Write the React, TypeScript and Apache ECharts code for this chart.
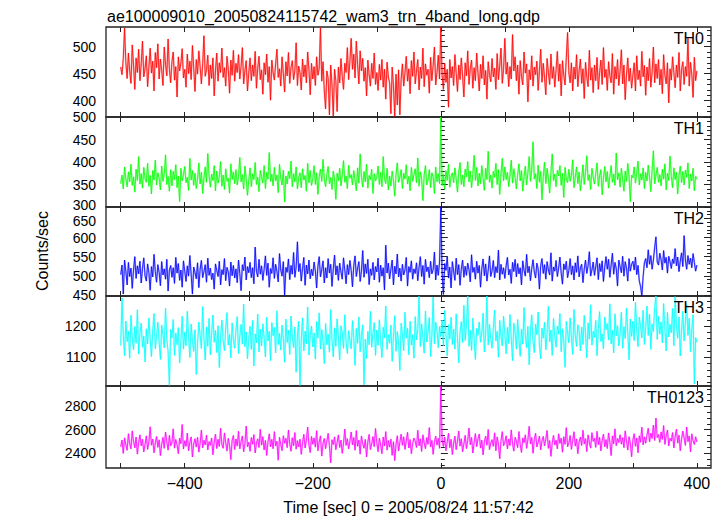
import { useEffect, useRef } from "react";
import * as echarts from "echarts";

// Light curve: 2-s bins from -500 s to +400 s
const T_START = -500;
const T_BIN = 2;

const TH0 = [
  462, 448, 478, 534, 470, 441, 488, 455, 432, 503,
  466, 421, 479, 452, 495, 437, 468, 510, 444, 459,
  483, 426, 462, 497, 451, 473, 418, 489, 461, 505,
  440, 477, 456, 428, 499, 467, 446, 514, 458, 433,
  472, 490, 438, 463, 407, 481, 455, 469, 496, 442,
  458, 425, 486, 450, 473, 439, 502, 461, 417, 476,
  449, 492, 463, 431, 468, 520, 445, 457, 484, 428,
  466, 441, 479, 409, 455, 488, 436, 470, 452, 497,
  443, 461, 427, 482, 458, 414, 475, 447, 493, 436,
  469, 452, 485, 440, 463, 498, 431, 456, 474, 418,
  451, 479, 437, 466, 445, 491, 423, 460, 482, 439,
  457, 412, 470, 448, 486, 434, 463, 401, 475, 452,
  438, 468, 495, 443, 459, 427, 481, 450, 416, 472,
  446, 489, 432, 461, 474, 439, 455, 507, 428, 464,
  452, 420, 477, 444, 466, 433, 490, 458, 411, 469,
  440, 463, 428, 481, 447, 459, 535, 436, 472, 418,
  385, 455, 441, 374, 466, 429, 372, 458, 437, 380,
  462, 433, 478, 445, 421, 469, 452, 498, 439, 473,
  515, 458, 486, 442, 510, 467, 431, 492, 455, 478,
  436, 461, 409, 475, 448, 427, 469, 441, 488, 430,
  452, 419, 467, 438, 476, 425, 458, 403, 471, 444,
  433, 376, 462, 428, 371, 449, 392, 457, 374, 439,
  468, 427, 451, 482, 436, 459, 413, 474, 445, 490,
  431, 455, 476, 420, 462, 441, 497, 426, 468, 447,
  458, 414, 480, 437, 465, 499, 429, 452, 484, 440,
  536, 447, 421, 469, 434, 458, 388, 476, 442, 463,
  428, 485, 451, 417, 466, 439, 479, 445, 407, 470,
  446, 492, 430, 459, 475, 423, 461, 437, 488, 452,
  418, 467, 441, 483, 429, 456, 403, 472, 448, 435,
  478, 444, 460, 421, 487, 439, 465, 497, 432, 458,
  515, 449, 471, 426, 463, 440, 522, 455, 481, 437,
  466, 412, 474, 445, 429, 490, 451, 468, 398, 457,
  439, 483, 427, 462, 448, 473, 419, 456, 495, 434,
  469, 443, 411, 478, 452, 430, 486, 441, 463, 425,
  457, 491, 436, 468, 409, 474, 447, 429, 480, 526,
  451, 433, 470, 418, 462, 440, 485, 426, 455, 477,
  432, 459, 404, 471, 444, 426, 493, 438, 461, 415,
  466, 437, 480, 421, 452, 475, 430, 498, 443, 458,
  419, 472, 446, 433, 487, 412, 463, 440, 476, 428,
  455, 494, 431, 466, 402, 448, 479, 436, 460, 423,
  447, 470, 418, 483, 439, 456, 427, 491, 444, 465,
  410, 462, 437, 478, 425, 452, 499, 433, 468, 441,
  476, 429, 458, 413, 485, 447, 431, 470, 396, 459,
  438, 481, 452, 424, 466, 443, 489, 418, 457, 472,
  430, 463, 445, 515, 427, 471, 449, 406, 480, 437,
  455,
];

const TH1 = [
  352, 371, 340, 389, 362, 345, 378, 356, 395, 348,
  367, 333, 384, 359, 412, 351, 374, 342, 388, 363,
  355, 397, 346, 370, 329, 381, 360, 404, 349, 376,
  364, 338, 391, 357, 373, 416, 350, 368, 335, 383,
  347, 379, 361, 394, 343, 369, 312, 386, 358, 372,
  390, 354, 366, 337, 408, 360, 381, 348, 375, 341,
  362, 398, 351, 377, 330, 365, 389, 355, 419, 369,
  344, 373, 359, 392, 336, 380, 353, 367, 401, 346,
  371, 339, 385, 357, 364, 331, 396, 361, 378, 352,
  383, 349, 368, 410, 356, 372, 340, 391, 363, 326,
  359, 387, 345, 374, 361, 399, 350, 366, 334, 381,
  368, 353, 392, 341, 377, 362, 421, 357, 373, 347,
  388, 358, 371, 332, 395, 364, 349, 382, 311, 369,
  351, 379, 363, 402, 345, 374, 356, 389, 340, 366,
  376, 343, 385, 360, 370, 335, 397, 354, 381, 348,
  363, 392, 350, 376, 328, 368, 384, 357, 406, 361,
  345, 373, 390, 352, 366, 339, 380, 362, 317, 375,
  358, 386, 347, 371, 403, 355, 369, 341, 393, 364,
  372, 349, 381, 360, 336, 387, 353, 418, 367, 344,
  379, 356, 395, 342, 370, 361, 384, 330, 374, 358,
  366, 391, 350, 377, 345, 412, 363, 352, 386, 338,
  369, 347, 380, 359, 324, 373, 398, 355, 366, 383,
  341, 375, 362, 394, 351, 368, 336, 388, 357, 372,
  385, 354, 409, 346, 378, 363, 314, 371, 392, 349,
  360, 383, 343, 376, 367, 330, 389, 356, 374, 352,
  500, 348, 372, 339, 381, 359, 395, 344, 368, 376,
  354, 387, 362, 333, 378, 399, 350, 371, 345, 384,
  367, 401, 356, 380, 343, 373, 415, 359, 388, 347,
  375, 352, 392, 364, 337, 386, 361, 424, 355, 371,
  342, 379, 366, 397, 350, 383, 328, 374, 408, 358,
  389, 361, 377, 345, 370, 404, 353, 385, 366, 340,
  372, 396, 358, 381, 335, 368, 391, 349, 376, 412,
  357, 383, 445, 362, 374, 341, 393, 355, 379, 316,
  368, 400, 352, 386, 364, 331, 377, 418, 359, 373,
  345, 381, 369, 392, 348, 375, 321, 388, 362, 354,
  384, 357, 371, 405, 343, 366, 389, 352, 378, 336,
  363, 394, 350, 377, 414, 359, 372, 339, 386, 367,
  351, 375, 398, 346, 369, 383, 327, 364, 390, 356,
  379, 342, 367, 392, 355, 373, 348, 420, 361, 376,
  344, 386, 362, 335, 380, 357, 397, 368, 312, 371,
  365, 389, 353, 376, 402, 349, 374, 360, 387, 341,
  377, 358, 393, 366, 334, 381, 425, 352, 370, 388,
  355, 372, 347, 384, 362, 396, 338, 375, 359, 413,
  368, 343, 387, 361, 377, 329, 370, 391, 354, 379,
  349, 382, 366, 398, 341, 373, 358, 386, 336, 368,
  362,
];

const TH2 = [
  503, 528, 452, 541, 512, 476, 535, 498, 520, 467,
  515, 550, 493, 526, 505, 538, 481, 519, 547, 500,
  486, 531, 508, 462, 524, 497, 556, 511, 483, 529,
  509, 474, 537, 502, 518, 491, 543, 460, 514, 527,
  496, 521, 480, 548, 507, 532, 488, 515, 470, 539,
  512, 485, 526, 499, 553, 504, 452, 523, 509, 492,
  534, 469, 517, 540, 495, 511, 529, 483, 546, 501,
  520, 490, 507, 465, 531, 514, 498, 538, 476, 516,
  503, 545, 487, 522, 510, 473, 536, 500, 527, 494,
  518, 482, 541, 506, 461, 529, 513, 549, 489, 524,
  508, 535, 495, 521, 479, 575, 512, 497, 543, 504,
  526, 488, 517, 552, 501, 533, 470, 519, 506, 547,
  493, 530, 511, 484, 558, 515, 499, 537, 449, 522,
  509, 544, 490, 527, 504, 561, 496, 523, 589, 511,
  532, 486, 519, 548, 475, 528, 505, 541, 492, 517,
  500, 536, 513, 468, 525, 550, 497, 516, 539, 481,
  521, 494, 545, 507, 530, 472, 518, 554, 502, 526,
  488, 533, 510, 491, 547, 515, 479, 529, 503, 540,
  514, 471, 527, 552, 498, 520, 537, 485, 512, 566,
  496, 531, 506, 543, 477, 518, 501, 535, 489, 524,
  510, 546, 483, 528, 499, 521, 463, 580, 507, 533,
  492, 517, 541, 476, 525, 505, 557, 497, 520, 486,
  530, 502, 515, 548, 473, 524, 509, 539, 491, 518,
  506, 534, 487, 522, 550, 498, 527, 478, 543, 511,
  523, 495, 538, 505, 516, 562, 489, 528, 501, 536,
  680, 507, 451, 532, 514, 549, 494, 523, 468, 537,
  512, 488, 546, 503, 529, 475, 518, 541, 496, 525,
  501, 533, 516, 484, 555, 509, 522, 491, 538, 507,
  527, 470, 519, 544, 500, 531, 486, 515, 552, 498,
  513, 540, 495, 524, 508, 567, 489, 530, 504, 521,
  493, 526, 548, 502, 517, 480, 535, 511, 543, 497,
  532, 505, 521, 476, 539, 514, 499, 556, 508, 525,
  487, 519, 542, 510, 494, 533, 518, 465, 527, 545,
  506, 529, 491, 537, 515, 502, 560, 486, 523, 512,
  540, 498, 520, 549, 507, 478, 531, 516, 538, 495,
  514, 545, 503, 526, 489, 534, 509, 552, 497, 521,
  530, 482, 518, 541, 506, 527, 563, 499, 515, 536,
  501, 524, 547, 490, 532, 511, 539, 485, 522, 550,
  517, 543, 496, 528, 559, 504, 535, 519, 473, 541,
  524, 508, 551, 499, 537, 520, 486, 545, 512, 530,
  538, 515, 549, 503, 527, 486, 472, 447, 498, 534,
  545, 521, 568, 530, 553, 517, 541, 574, 602, 536,
  528, 559, 542, 515, 566, 533, 548, 507, 551, 537,
  519, 544, 532, 571, 526, 549, 511, 538, 560, 524,
  605, 541, 517, 553, 530, 546, 521, 558, 535, 512,
  528,
];

const TH3 = [
  1138, 1290, 1172, 1105, 1216, 1150, 1183, 1097, 1234, 1161,
  1124, 1198, 1145, 1252, 1110, 1177, 1209, 1132, 1168, 1085,
  1191, 1143, 1226, 1158, 1102, 1185, 1240, 1127, 1166, 1212,
  1149, 1093, 1203, 1171, 1130, 1257, 1156, 1118, 1010, 1189,
  1162, 1221, 1106, 1178, 1140, 1195, 1082, 1154, 1231, 1126,
  1180, 1137, 1247, 1165, 1099, 1206, 1151, 1119, 1188, 1045,
  1144, 1213, 1170, 1128, 1262, 1159, 1091, 1197, 1135, 1224,
  1108, 1176, 1235, 1148, 1186, 1115, 1201, 1067, 1163, 1219,
  1153, 1121, 1194, 1243, 1139, 1173, 1098, 1210, 1157, 1129,
  1187, 1230, 1112, 1167, 1205, 1142, 1270, 1134, 1181, 1095,
  1160, 1199, 1125, 1218, 1072, 1175, 1146, 1238, 1117, 1190,
  1136, 1207, 1164, 1101, 1228, 1152, 1183, 1089, 1211, 1169,
  1195, 1114, 1249, 1141, 1176, 1123, 1203, 1158, 1084, 1222,
  1147, 1186, 1109, 1232, 1166, 1131, 1197, 1052, 1174, 1215,
  1010, 1155, 1226, 1120, 1184, 1143, 1261, 1107, 1170, 1200,
  1133, 1178, 1094, 1214, 1161, 1242, 1126, 1189, 1150, 1080,
  1208, 1140, 1173, 1116, 1253, 1157, 1101, 1194, 1135, 1223,
  1165, 1092, 1201, 1179, 1128, 1236, 1148, 1112, 1185, 1154,
  1127, 1217, 1163, 1074, 1192, 1145, 1229, 1118, 1171, 1204,
  1012, 1158, 1096, 1183, 1140, 1247, 1132, 1176, 1211, 1106,
  1187, 1138, 1220, 1153, 1099, 1196, 1162, 1264, 1125, 1172,
  1145, 1203, 1087, 1167, 1233, 1119, 1182, 1150, 1058, 1209,
  1176, 1121, 1244, 1161, 1193, 1108, 1215, 1139, 1172, 1097,
  1230, 1156, 1188, 1295, 1134, 1207, 1164, 1113, 1248, 1149,
  1180, 1227, 1102, 1169, 1293, 1143, 1212, 1185, 1131, 1198,
  1166, 1219, 1137, 1250, 1174, 1105, 1204, 1158, 1228, 1141,
  1190, 1126, 1239, 1163, 1082, 1181, 1214, 1147, 1266, 1154,
  1201, 1296, 1135, 1186, 1122, 1225, 1159, 1093, 1192, 1170,
  1213, 1148, 1178, 1241, 1117, 1173, 1296, 1139, 1205, 1160,
  1129, 1194, 1251, 1152, 1183, 1100, 1218, 1167, 1136, 1232,
  1175, 1111, 1196, 1144, 1237, 1162, 1089, 1209, 1181, 1126,
  1221, 1157, 1103, 1190, 1142, 1259, 1168, 1131, 1199, 1076,
  1184, 1236, 1150, 1115, 1206, 1172, 1245, 1138, 1095, 1193,
  1161, 1212, 1124, 1178, 1263, 1149, 1187, 1106, 1224, 1166,
  1132, 1200, 1174, 1240, 1118, 1191, 1153, 1068, 1215, 1179,
  1146, 1226, 1163, 1109, 1253, 1170, 1135, 1204, 1185, 1120,
  1197, 1141, 1234, 1177, 1098, 1210, 1158, 1268, 1139, 1183,
  1164, 1218, 1105, 1192, 1246, 1151, 1175, 1127, 1229, 1188,
  1208, 1155, 1271, 1143, 1186, 1114, 1239, 1169, 1201, 1136,
  1173, 1244, 1129, 1198, 1160, 1257, 1181, 1092, 1222, 1167,
  1215, 1153, 1276, 1187, 1134, 1228, 1199, 1162, 1250, 1141,
  1195, 1264, 1170, 1238, 1125, 1207, 1182, 1259, 1296, 1157,
  1231, 1174, 1213, 1146, 1272, 1189, 1120, 1243, 1165, 1205,
  1178, 1256, 1137, 1294, 1198, 1161, 1229, 1104, 1184, 1247,
  1152, 1211, 1268, 1170, 1225, 1118, 1190, 1236, 1015, 1163,
  1148,
];

const TH0123 = [
  2455, 2512, 2398, 2531, 2470, 2424, 2566, 2483, 2437, 2590,
  2501, 2446, 2538, 2392, 2489, 2557, 2463, 2519, 2410, 2475,
  2548, 2432, 2496, 2625, 2468, 2521, 2403, 2487, 2542, 2450,
  2514, 2379, 2476, 2535, 2441, 2580, 2497, 2426, 2552, 2462,
  2488, 2608, 2443, 2517, 2471, 2395, 2529, 2481, 2645, 2435,
  2506, 2458, 2571, 2420, 2492, 2539, 2367, 2478, 2524, 2452,
  2536, 2409, 2483, 2597, 2445, 2511, 2470, 2554, 2428, 2499,
  2467, 2530, 2386, 2495, 2562, 2439, 2518, 2457, 2613, 2474,
  2442, 2573, 2490, 2418, 2527, 2464, 2345, 2508, 2551, 2431,
  2521, 2460, 2587, 2436, 2500, 2547, 2412, 2479, 2632, 2455,
  2493, 2415, 2534, 2476, 2559, 2401, 2486, 2522, 2448, 2604,
  2469, 2541, 2427, 2509, 2380, 2497, 2565, 2453, 2518, 2438,
  2584, 2461, 2502, 2339, 2536, 2474, 2421, 2549, 2485, 2527,
  2447, 2598, 2480, 2416, 2532, 2463, 2576, 2434, 2507, 2453,
  2519, 2390, 2488, 2561, 2444, 2510, 2623, 2468, 2405, 2543,
  2476, 2530, 2451, 2592, 2420, 2497, 2548, 2375, 2484, 2526,
  2438, 2503, 2569, 2462, 2317, 2515, 2473, 2539, 2429, 2491,
  2556, 2448, 2512, 2398, 2485, 2606, 2466, 2524, 2437, 2500,
  2581, 2471, 2534, 2425, 2593, 2459, 2512, 2391, 2547, 2483,
  2442, 2518, 2367, 2496, 2560, 2430, 2479, 2542, 2455, 2611,
  2489, 2413, 2528, 2470, 2395, 2537, 2462, 2584, 2426, 2507,
  2451, 2520, 2381, 2498, 2336, 2473, 2549, 2418, 2491, 2562,
  2467, 2540, 2432, 2505, 2578, 2444, 2516, 2395, 2483, 2529,
  2501, 2448, 2595, 2463, 2522, 2414, 2557, 2487, 2438, 2533,
  2476, 2618, 2452, 2509, 2390, 2494, 2546, 2469, 2527, 2441,
  2974, 2513, 2457, 2538, 2421, 2496, 2570, 2447, 2519, 2388,
  2485, 2546, 2430, 2502, 2589, 2460, 2523, 2412, 2478, 2552,
  2439, 2507, 2614, 2472, 2534, 2401, 2490, 2567, 2455, 2521,
  2563, 2443, 2511, 2385, 2497, 2545, 2468, 2602, 2430, 2486,
  2515, 2458, 2574, 2420, 2539, 2476, 2352, 2508, 2584, 2463,
  2492, 2548, 2436, 2521, 2465, 2599, 2481, 2417, 2536, 2502,
  2447, 2585, 2473, 2406, 2530, 2489, 2557, 2441, 2512, 2629,
  2478, 2534, 2399, 2516, 2570, 2453, 2494, 2546, 2427, 2505,
  2543, 2462, 2518, 2594, 2441, 2508, 2373, 2487, 2552, 2470,
  2511, 2437, 2565, 2483, 2529, 2408, 2540, 2476, 2618, 2455,
  2486, 2551, 2432, 2507, 2583, 2460, 2522, 2395, 2498, 2537,
  2465, 2596, 2478, 2524, 2413, 2556, 2489, 2443, 2575, 2501,
  2528, 2449, 2587, 2472, 2535, 2420, 2509, 2562, 2454, 2516,
  2440, 2573, 2496, 2379, 2548, 2480, 2607, 2463, 2525, 2491,
  2557, 2477, 2532, 2447, 2590, 2505, 2426, 2541, 2484, 2369,
  2512, 2566, 2459, 2530, 2403, 2548, 2493, 2622, 2470, 2539,
  2485, 2554, 2613, 2497, 2571, 2526, 2640, 2508, 2700, 2533,
  2560, 2492, 2581, 2517, 2636, 2475, 2549, 2598, 2462, 2527,
  2503, 2576, 2444, 2539, 2605, 2486, 2553, 2420, 2517, 2589,
  2531, 2466, 2624, 2498, 2547, 2411, 2565, 2508, 2474, 2540,
  2495,
];

const PANEL_NAMES = ["TH0", "TH1", "TH2", "TH3", "TH0123"];
const PANEL_DATA = [TH0, TH1, TH2, TH3, TH0123];
const PANEL_COLORS = ["#ff0000", "#00ff00", "#0000ff", "#00ffff", "#ff00ff"];
const Y_MIN = [370, 300, 447, 1008, 2273];
const Y_MAX = [536, 500, 680, 1296, 2974];
const Y_MAJOR = [50, 50, 50, 100, 200];
const Y_MINOR = [10, 10, 10, 20, 50];

const X_MIN = -523;
const X_MAX = 422;
const X_TICKS = [-500, -400, -300, -200, -100, 0, 100, 200, 300, 400];
const X_LABELS = [-400, -200, 0, 200, 400];

const TITLE = "ae100009010_20050824115742_wam3_trn_4band_long.qdp";
const X_NAME = "Time [sec] 0 = 2005/08/24 11:57:42";
const Y_NAME = "Counts/sec";

const FONT = '"Liberation Sans", Arial, Helvetica, sans-serif';
const GRID_LEFT = 106;
const GRID_WIDTH = 605;
const GRID_TOPS = [27, 117, 207, 296, 386];
const GRID_HEIGHTS = [90, 90, 89, 90, 90];
const FRAME = "#222";
const LABEL_SIZE = 14;

function ticks(min: number, max: number, step: number): number[] {
  const out: number[] = [];
  for (let v = Math.ceil(min / step) * step; v <= max + 1e-9; v += step) out.push(v);
  return out;
}

export default function App() {
  const ref = useRef<HTMLDivElement>(null);

  useEffect(() => {
    if (!ref.current) return;
    const chart = echarts.init(ref.current, null, { renderer: "svg" });

    const grids: any[] = [];
    const xAxes: any[] = [];
    const yAxes: any[] = [];
    const series: any[] = [];
    const graphics: any[] = [];
    const nPanels = PANEL_NAMES.length;

    PANEL_NAMES.forEach((name, k) => {
      grids.push({
        left: GRID_LEFT,
        width: GRID_WIDTH,
        top: GRID_TOPS[k],
        height: GRID_HEIGHTS[k],
        show: true,
        borderColor: FRAME,
        borderWidth: 1.3,
        backgroundColor: "transparent",
      });

      const xBase = {
        gridIndex: k,
        type: "value",
        min: X_MIN,
        max: X_MAX,
        axisLine: { show: false },
        splitLine: { show: false },
        axisTick: {
          show: true,
          inside: true,
          length: 5,
          customValues: X_TICKS,
          lineStyle: { color: FRAME, width: 1 },
        },
        axisLabel: { show: false },
      };
      const isLast = k === nPanels - 1;
      xAxes.push({
        ...xBase,
        position: "bottom",
        axisLabel: isLast
          ? {
              show: true,
              customValues: X_LABELS,
              fontSize: 16,
              fontFamily: FONT,
              color: "#000",
              margin: 7,
              formatter: (v: number) => String(v).replace("-", "\u2212"),
            }
          : { show: false },
        name: isLast ? X_NAME : "",
        nameLocation: "middle",
        nameGap: 31,
        nameTextStyle: { fontSize: 16, fontFamily: FONT, color: "#000" },
      });
      xAxes.push({ ...xBase, position: "top" });

      const majors = ticks(Y_MIN[k], Y_MAX[k], Y_MAJOR[k]);
      const minors = ticks(Y_MIN[k], Y_MAX[k], Y_MINOR[k]).filter(
        (v) => Math.abs(v % Y_MAJOR[k]) > 1e-9
      );
      const yBase = {
        gridIndex: k,
        type: "value",
        min: Y_MIN[k],
        max: Y_MAX[k],
        axisLine: { show: false },
        splitLine: { show: false },
        axisLabel: { show: false },
      };
      // labels touching a panel boundary are nudged slightly apart so they don't collide
      const lowLabel = majors[0] === Y_MIN[k] && k < nPanels - 1 ? majors[0] : null;
      const prevTouchesTop = k > 0 && ticks(Y_MIN[k - 1], Y_MAX[k - 1], Y_MAJOR[k - 1])[0] === Y_MIN[k - 1];
      const highLabel = prevTouchesTop ? majors[majors.length - 1] : null;
      ["left", "right"].forEach((pos) => {
        yAxes.push({
          ...yBase,
          position: pos,
          axisTick: {
            show: true,
            inside: true,
            length: 7,
            customValues: majors,
            lineStyle: { color: FRAME, width: 1 },
          },
          axisLabel:
            pos === "left"
              ? {
                  show: true,
                  customValues: majors,
                  fontSize: LABEL_SIZE,
                  fontFamily: FONT,
                  color: "#000",
                  margin: 10,
                  showMinLabel: true,
                  showMaxLabel: true,
                  hideOverlap: false,
                  formatter: (v: number) =>
                    v === lowLabel ? `{lo|${v}}` : v === highLabel ? `{hi|${v}}` : String(v),
                  rich: {
                    lo: { fontSize: LABEL_SIZE, fontFamily: FONT, color: "#000", padding: [0, 0, 5, 0] },
                    hi: { fontSize: LABEL_SIZE, fontFamily: FONT, color: "#000", padding: [5, 0, 0, 0] },
                  },
                }
              : { show: false },
        });
        yAxes.push({
          ...yBase,
          position: pos,
          axisTick: {
            show: true,
            inside: true,
            length: 4,
            customValues: minors,
            lineStyle: { color: FRAME, width: 1 },
          },
        });
      });

      const pts = PANEL_DATA[k].map((v, i) => [T_START + i * T_BIN, v]);
      series.push({
        type: "line",
        xAxisIndex: 2 * k,
        yAxisIndex: 4 * k,
        data: pts,
        showSymbol: false,
        symbol: "none",
        silent: true,
        lineStyle: { color: PANEL_COLORS[k], width: 1.8, opacity: 0.3 },
        z: 2,
      });
      series.push({
        type: "line",
        xAxisIndex: 2 * k,
        yAxisIndex: 4 * k,
        data: pts,
        showSymbol: false,
        symbol: "none",
        silent: true,
        lineStyle: { color: PANEL_COLORS[k], width: 0.8 },
        z: 3,
      });

      graphics.push({
        type: "text",
        x: 704,
        y: GRID_TOPS[k] + 11,
        z: 10,
        style: {
          text: name,
          fill: "#000",
          font: `16px ${FONT}`,
          textAlign: "right",
          textVerticalAlign: "middle",
        },
      });
    });

    graphics.push({
      type: "text",
      x: 107,
      y: 16,
      style: {
        text: TITLE,
        fill: "#000",
        font: `16px ${FONT}`,
        textAlign: "left",
        textVerticalAlign: "middle",
      },
    });
    graphics.push({
      type: "text",
      x: 42,
      y: 251,
      rotation: Math.PI / 2,
      style: {
        text: Y_NAME,
        fill: "#000",
        font: `16px ${FONT}`,
        textAlign: "center",
        textVerticalAlign: "middle",
      },
    });

    chart.setOption({
      animation: false,
      backgroundColor: "#fff",
      grid: grids,
      xAxis: xAxes,
      yAxis: yAxes,
      series,
      graphic: graphics,
    });

    return () => chart.dispose();
  }, []);

  return (
    <div
      ref={ref}
      style={{ position: "fixed", left: 0, top: 0, width: 724, height: 516, background: "#fff" }}
    />
  );
}
